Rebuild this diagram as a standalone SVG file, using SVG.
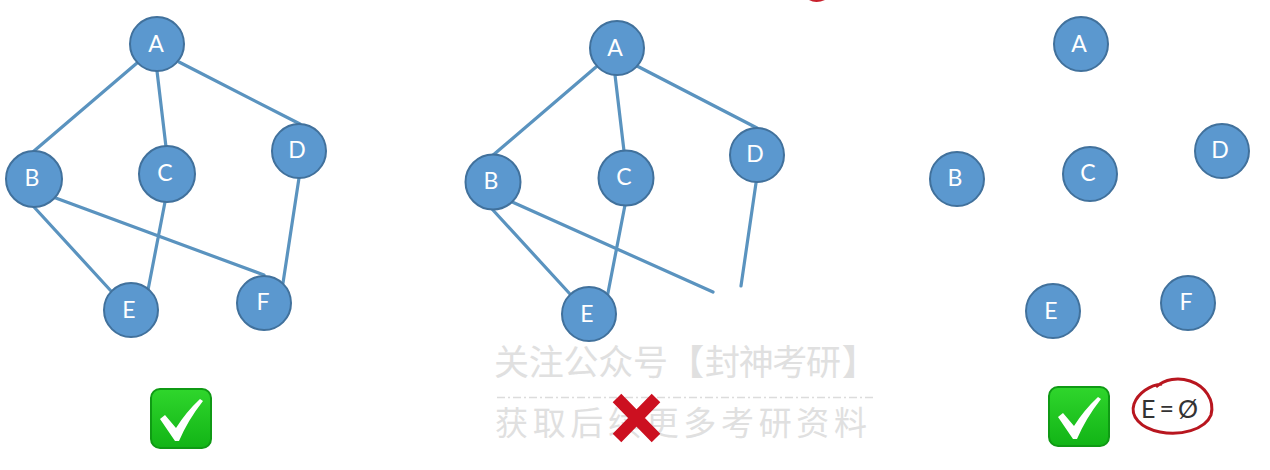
<svg xmlns="http://www.w3.org/2000/svg" width="1270" height="470" viewBox="0 0 1270 470">
<defs>
<linearGradient id="gr" x1="0" y1="0" x2="0" y2="1"><stop offset="0" stop-color="#2fd62c"/><stop offset="1" stop-color="#12b416"/></linearGradient>
<g id="check"><rect x="1" y="1" width="60" height="59" rx="9" fill="url(#gr)" stroke="#0f9a14" stroke-width="2"/><path d="M10 31 L15 27 L26 40 Q36 24 50 11 L53 13 Q38 32 29 53 L25 53 Z" fill="#fff"/></g>
</defs>
<style>
.n{fill:#5b98cf;stroke:#41719c;stroke-width:2}
.t{font-family:Lato,"Liberation Sans",sans-serif;font-size:23px;fill:#fff;text-anchor:middle}
.e{fill:none;stroke:#5a93bf;stroke-width:3.2;stroke-linecap:round}
.w{font-family:"Noto Sans CJK SC",sans-serif;fill:#e0e0e0}
</style>
<rect width="1270" height="470" fill="#fff"/>
<g id="connectors">
<path class="e" d="M137 63L34 151M157 71L166 147M179 62L300 124M53 197L264 275M34 207L111 291M165 202L148 290M299 178L283 283"/>
<path class="e" d="M596 67L492 156M615 75L624 151M637 66L757 128M510 201L713 292M492 209L570 294M625 205L607 298M756 183L741 286"/>
</g>
<g id="left-A"><circle class="n" cx="157" cy="44" r="27"/><text class="t" x="156" y="52">A</text></g>
<g id="left-B"><circle class="n" cx="34" cy="179" r="28"/><text class="t" x="32" y="186">B</text></g>
<g id="left-C"><circle class="n" cx="167" cy="174" r="28"/><text class="t" x="165" y="181">C</text></g>
<g id="left-D"><circle class="n" cx="299" cy="151" r="27"/><text class="t" x="297" y="158">D</text></g>
<g id="left-E"><circle class="n" cx="131" cy="310" r="27"/><text class="t" x="129" y="318">E</text></g>
<g id="left-F"><circle class="n" cx="264" cy="303" r="27"/><text class="t" x="263" y="310">F</text></g>
<g id="mid-A"><circle class="n" cx="617" cy="48" r="27"/><text class="t" x="615" y="56">A</text></g>
<g id="mid-B"><circle class="n" cx="493" cy="182" r="27.500"/><text class="t" x="491" y="189">B</text></g>
<g id="mid-C"><circle class="n" cx="626" cy="178" r="27.500"/><text class="t" x="624" y="185">C</text></g>
<g id="mid-D"><circle class="n" cx="757" cy="155" r="27"/><text class="t" x="755" y="162">D</text></g>
<g id="mid-E"><circle class="n" cx="589" cy="314" r="27"/><text class="t" x="587" y="322">E</text></g>
<g id="right-A"><circle class="n" cx="1081" cy="44" r="27"/><text class="t" x="1079" y="52">A</text></g>
<g id="right-B"><circle class="n" cx="957" cy="179" r="27"/><text class="t" x="955" y="186">B</text></g>
<g id="right-C"><circle class="n" cx="1090" cy="174" r="27"/><text class="t" x="1088" y="181">C</text></g>
<g id="right-D"><circle class="n" cx="1222" cy="151" r="27"/><text class="t" x="1220" y="158">D</text></g>
<g id="right-E"><circle class="n" cx="1053" cy="311" r="27"/><text class="t" x="1051" y="319">E</text></g>
<g id="right-F"><circle class="n" cx="1188" cy="303" r="27"/><text class="t" x="1186" y="310">F</text></g>
<use href="#check" x="150" y="388"/>
<use href="#check" x="1048" y="386"/>
<text class="w" x="494" y="375" font-size="35" textLength="174" lengthAdjust="spacing">关注公众号</text>
<text class="w" x="669" y="375" font-size="35" font-weight="700" textLength="35" lengthAdjust="spacingAndGlyphs">【</text>
<text class="w" x="705" y="375" font-size="35" textLength="136" lengthAdjust="spacing">封神考研</text>
<text class="w" x="842" y="375" font-size="35" font-weight="700" textLength="35" lengthAdjust="spacingAndGlyphs">】</text>
<path d="M497 397.500H876" stroke="#dcdcdc" stroke-width="1.500" stroke-dasharray="8 3 2 3"/>
<text class="w" x="495" y="435" font-size="33" textLength="372" lengthAdjust="spacing" fill="#d8d8d8">获取后续更多考研资料</text>
<path d="M617 398L656 438M656 398L617 438" stroke="#cc1020" stroke-width="12" fill="none"/>
<path d="M1162 384C1150 385 1138 393 1134 404C1130 416 1140 428 1160 432C1180 436 1205 430 1211 415C1215 400 1205 386 1190 381C1178 377 1165 379 1156 387" fill="none" stroke="#b8161f" stroke-width="3"/>
<text x="1141" y="418" font-family="Lato,'Liberation Sans',sans-serif" font-size="25" fill="#333" textLength="57" lengthAdjust="spacing">E = Ø</text>
<path d="M809 0Q816 4 825 0Z" fill="#c8202c"/>
</svg>
